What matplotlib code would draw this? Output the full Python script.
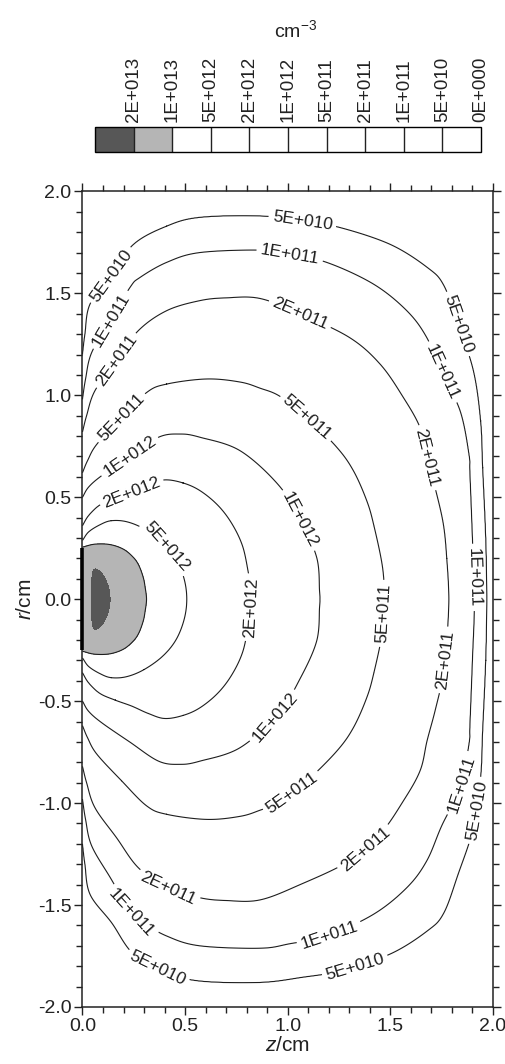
import numpy as np
import matplotlib
matplotlib.use('Agg')
import matplotlib.pyplot as plt

plt.rcParams['font.family'] = ['Liberation Sans', 'DejaVu Sans']
plt.rcParams['mathtext.fontset'] = 'custom'
plt.rcParams['mathtext.rm'] = 'Liberation Sans'
plt.rcParams['mathtext.it'] = 'Liberation Sans:italic'
plt.rcParams['axes.unicode_minus'] = False

# density levels (cm^-3), high to low
levels = [2e13, 1e13, 5e12, 2e12, 1e12, 5e11, 2e11, 1e11, 5e10]
level_names = ['2E+013', '1E+013', '5E+012', '2E+012', '1E+012',
               '5E+011', '2E+011', '1E+011', '5E+010']
cbar_labels = ['2E+013', '1E+013', '5E+012', '2E+012', '1E+012',
               '5E+011', '2E+011', '1E+011', '5E+010', '0E+000']
peak_value = 3e13
wall_value = 1e10
peak_z = 0.08
electrode_r = [-0.25, 0.25]

# contour traces, upper half, (z, r) in cm,
# from the r=0 line round to the z=0 wall (field is symmetric in r)
t_2e13 = [(0.134, 0.0), (0.126, 0.06), (0.105, 0.11), (0.08, 0.14),
          (0.06, 0.148), (0.048, 0.125), (0.045, 0.06), (0.045, 0.0)]
t_1e13 = [(0.312, 0.0), (0.305, 0.06), (0.296, 0.107), (0.275, 0.165),
          (0.248, 0.205), (0.20, 0.245), (0.134, 0.268), (0.06, 0.27),
          (0.0, 0.256)]
t_5e12 = [(0.508, 0.0), (0.495, 0.1), (0.455, 0.2), (0.39, 0.28),
          (0.30, 0.345), (0.215, 0.38), (0.14, 0.385), (0.085, 0.365),
          (0.03, 0.33), (0.0, 0.288)]
t_2e12 = [(0.825, 0.0), (0.818, 0.07), (0.808, 0.13), (0.78, 0.26),
          (0.728, 0.37), (0.66, 0.46), (0.573, 0.532), (0.49, 0.57),
          (0.40, 0.585), (0.32, 0.56), (0.24, 0.524), (0.16, 0.495),
          (0.085, 0.462), (0.03, 0.41), (0.0, 0.36)]
t_1e12 = [(1.157, 0.0), (1.155, 0.04), (1.141, 0.205), (1.06, 0.39),
          (0.955, 0.56), (0.768, 0.728), (0.573, 0.794), (0.475, 0.81),
          (0.37, 0.794), (0.23, 0.70), (0.094, 0.606), (0.03, 0.55),
          (0.0, 0.50)]
t_5e11 = [(1.47, 0.0), (1.462, 0.156), (1.42, 0.36), (1.385, 0.483),
          (1.32, 0.63), (1.239, 0.745), (1.093, 0.892), (0.962, 0.995),
          (0.865, 1.035), (0.768, 1.065), (0.605, 1.08), (0.41, 1.055),
          (0.313, 1.014), (0.19, 0.89), (0.07, 0.76), (0.025, 0.68),
          (0.0, 0.62)]
t_2e11 = [(1.785, 0.0), (1.775, 0.2), (1.758, 0.37), (1.718, 0.547),
          (1.679, 0.694), (1.645, 0.841), (1.563, 0.99), (1.45, 1.153),
          (1.30, 1.284), (1.06, 1.40), (0.865, 1.475), (0.70, 1.478),
          (0.57, 1.464), (0.41, 1.415), (0.272, 1.317), (0.166, 1.17),
          (0.061, 1.023), (0.02, 0.90), (0.0, 0.82)]
t_1e11 = [(1.91, 0.0), (1.90, 0.3), (1.888, 0.615), (1.883, 0.713),
          (1.84, 0.924), (1.75, 1.112), (1.677, 1.284), (1.58, 1.415),
          (1.417, 1.546), (1.19, 1.652), (1.01, 1.69), (0.865, 1.712),
          (0.57, 1.70), (0.41, 1.652), (0.28, 1.578), (0.232, 1.53),
          (0.138, 1.37), (0.045, 1.21), (0.015, 1.08), (0.0, 0.98)]
t_5e10 = [(1.97, 0.0), (1.965, 0.3), (1.95, 0.645), (1.94, 0.875),
          (1.905, 1.12), (1.83, 1.35), (1.76, 1.54), (1.68, 1.627),
          (1.50, 1.74), (1.255, 1.823), (1.07, 1.855), (0.865, 1.88),
          (0.57, 1.873), (0.41, 1.83), (0.248, 1.74), (0.142, 1.587),
          (0.037, 1.448), (0.012, 1.30), (0.0, 1.20)]
traces = [t_2e13, t_1e13, t_5e12, t_2e12, t_1e12, t_5e11, t_2e11, t_1e11, t_5e10]


def spline(pts):
    # Catmull-Rom through the read points, mirrored at r=0
    p = np.array(pts, float)
    head = p[1] * [1, -1]
    tail = p[-2] * [1, -1] if p[-1, 1] == 0 else 2 * p[-1] - p[-2]
    q = np.vstack([head, p, tail])
    t = np.linspace(0, 1, 30)[:, None]
    out = []
    for i in range(len(p) - 1):
        p0, p1, p2, p3 = q[i], q[i + 1], q[i + 2], q[i + 3]
        out.append(0.5 * (2 * p1 + (p2 - p0) * t
                          + (2 * p0 - 5 * p1 + 4 * p2 - p3) * t ** 2
                          + (3 * p1 - p0 - 3 * p2 + p3) * t ** 3))
    return np.vstack(out)


def trace_radius(pts, theta):
    s = spline(pts)
    th = np.arctan2(np.abs(s[:, 1]), s[:, 0] - peak_z)
    rr = np.hypot(s[:, 0] - peak_z, s[:, 1])
    o = np.argsort(th)
    return np.interp(theta, th[o], rr[o])


def box_radius(theta):
    c, s = np.cos(theta), np.sin(theta)
    with np.errstate(divide='ignore'):
        rz = np.where(c > 1e-9, (2 - peak_z) / np.maximum(c, 1e-9), np.inf)
        rs = np.where(s > 1e-9, 2 / np.maximum(s, 1e-9), np.inf)
    return np.minimum(rz, rs)


z = np.linspace(0, 2, 801)
r = np.linspace(-2, 2, 1601)
Z, R = np.meshgrid(z, r)
theta = np.arctan2(np.abs(R), Z - peak_z)
rho = np.hypot(Z - peak_z, R)

radii = [np.zeros_like(rho)] + [trace_radius(t, theta) for t in traces] + [box_radius(theta)]
logv = np.log10([peak_value] + levels + [wall_value])
logf = np.full_like(rho, logv[-1])
for i in range(len(radii) - 1):
    a, b = radii[i], radii[i + 1]
    m = (rho >= a) & (rho < b)
    frac = (rho[m] - a[m]) / (b[m] - a[m])
    logf[m] = logv[i] + (logv[i + 1] - logv[i]) * frac
density = 10 ** logf

fig = plt.figure(figsize=(5.06, 10.64), dpi=100)
ax = fig.add_axes([0.163, 0.0536, 0.8113, 0.7665])

bounds = [0] + levels[::-1] + [1e14]
fill_colors = ['white'] * 8 + ['#b5b5b5', '#575757']
cf = ax.contourf(Z, R, density, levels=bounds, colors=fill_colors)
cs = ax.contour(Z, R, density, levels=levels[:0:-1], colors='#1e1e1e',
                linewidths=0.8)

fmt = dict(zip(levels, level_names))
label_pos = [(0.142, 1.587), (1.07, 1.85), (1.83, 1.35), (1.914, -1.037),
             (1.33, -1.806), (0.37, -1.80),
             (0.138, 1.37), (1.01, 1.69), (1.75, 1.112), (1.905, 0.107),
             (1.84, -0.905), (1.20, -1.64), (0.266, -1.518),
             (0.166, 1.17), (1.06, 1.40), (1.679, 0.694), (1.776, -0.30),
             (1.37, -1.217), (0.43, -1.39),
             (0.19, 0.89), (1.093, 0.892), (1.46, -0.07), (1.013, -0.94),
             (0.23, 0.70), (1.06, 0.39), (0.915, -0.56),
             (0.24, 0.524), (0.826, -0.04),
             (0.378, 0.227)]
ax.clabel(cs, levels=levels[2:], fmt=fmt, manual=label_pos, inline=True,
          inline_spacing=4, fontsize=12.5, colors='#1e1e1e')

ax.plot([0, 0], electrode_r, color='black', lw=2.6, solid_capstyle='butt',
        clip_on=False, zorder=6)

ax.set_xlim(0, 2)
ax.set_ylim(-2, 2)
ax.set_xticks(np.arange(0, 2.01, 0.5))
ax.set_yticks(np.arange(-2, 2.01, 0.5))
ax.set_xticks(np.arange(0, 2.01, 0.1), minor=True)
ax.set_yticks(np.arange(-2, 2.01, 0.1), minor=True)
ax.set_xticklabels(['%.1f' % v for v in np.arange(0, 2.01, 0.5)])
ax.set_yticklabels(['%.1f' % v for v in np.arange(-2, 2.01, 0.5)])
ax.tick_params(which='both', direction='out', top=True, right=True,
               colors='#222222', labelsize=14, width=1)
ax.tick_params(which='major', length=6, pad=2)
ax.tick_params(which='minor', length=4)
for sp in ax.spines.values():
    sp.set_linewidth(1.1)
    sp.set_color('#222222')
ax.set_xlabel('$\\it{z}$/cm', fontsize=15, labelpad=1, color='#222222')
ax.set_ylabel('$\\it{r}$/cm', fontsize=15, labelpad=2, color='#222222')

# colour key on top
cax = fig.add_axes([0.1877, 0.857, 0.7629, 0.0235])
cb = fig.colorbar(cf, cax=cax, orientation='horizontal', spacing='uniform',
                  ticks=bounds[:-1])
cb.ax.invert_xaxis()
for b in bounds[1:-1]:
    cb.ax.axvline(b, color='#222222', lw=1)
cb.ax.xaxis.set_ticks_position('top')
cb.ax.set_xticklabels(cbar_labels[::-1])
cb.ax.tick_params(length=0, labelrotation=90, labelsize=13.5, pad=4,
                  colors='#222222')
cb.minorticks_off()
cb.outline.set_linewidth(1)
fig.text(0.585, 0.972, 'cm$^{-3}$', ha='center', va='center', fontsize=14,
         color='#222222')

fig.savefig('out.png', dpi=100)
